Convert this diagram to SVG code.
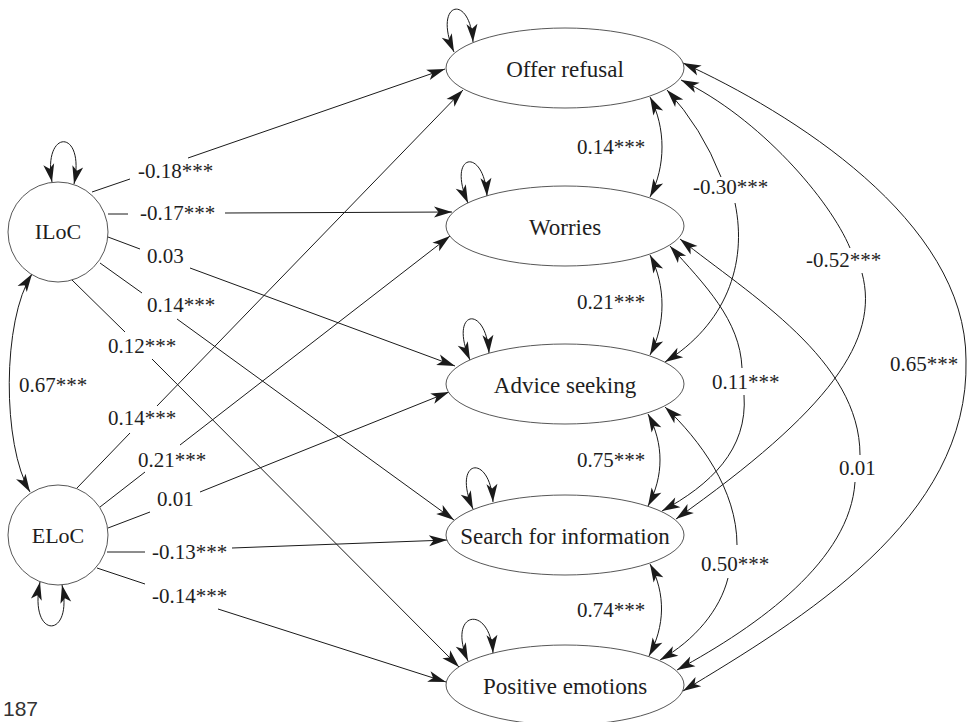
<svg xmlns="http://www.w3.org/2000/svg" width="967" height="722" viewBox="0 0 967 722">
<style>
.node{fill:#fff;stroke:#444;stroke-width:0.9}
.c{fill:none;stroke:#1a1a1a;stroke-width:1}
.ae{marker-end:url(#ah)}
.ab{marker-start:url(#ah);marker-end:url(#ah)}
.t{font-family:"Liberation Serif","Times New Roman",serif;fill:#1e1e1e}
.nl{font-size:23px;text-anchor:middle}
.cl{font-size:22px;text-anchor:middle}
.el{font-size:21px}
.pg{font-family:"Liberation Sans",Arial,sans-serif;font-size:21px;fill:#333}
</style>
<defs>
<marker id="ah" viewBox="-19 -7 20 14" refX="0" refY="0" markerWidth="20" markerHeight="14" markerUnits="userSpaceOnUse" orient="auto-start-reverse">
<path d="M0,0 L-18,-5.5 L-13.5,0 L-18,5.5 Z" fill="#1a1a1a"/>
</marker>
</defs>
<rect width="967" height="722" fill="#fff"/>

<g id="connectors">
<!-- ILoC paths -->
<path class="c" d="M92,192 L130,179"/><path class="c ae" d="M188,158 L445,69"/>
<path class="c" d="M108,214 L128,214"/><path class="c ae" d="M225,213 L452,212"/>
<path class="c" d="M108,237 L140,249"/><path class="c ae" d="M190,268 L455,366"/>
<path class="c" d="M100,263 L142,293"/><path class="c ae" d="M177,319 L454,520"/>
<path class="c" d="M72,280 L125,332"/><path class="c ae" d="M152,359 L459,667"/>
<!-- ELoC paths -->
<path class="c" d="M77,488 L130,433"/><path class="c ae" d="M157,406 L463,90"/>
<path class="c" d="M100,507 L145,472"/><path class="c ae" d="M180,445 L450,236"/>
<path class="c" d="M108,528 L150,512"/><path class="c ae" d="M200,492 L449,392"/>
<path class="c" d="M107,552 L145,552"/><path class="c ae" d="M232,548 L447,540"/>
<path class="c" d="M97,568 L145,584"/><path class="c ae" d="M218,609 L446,682"/>
<!-- ILoC-ELoC covariance -->
<path class="c ab" d="M32,274 C2,320 2,445 30,492"/>
<!-- self loops -->
<path class="c ab" d="M52,182 C42,128 86,128 74,184"/>
<path class="c ab" d="M40,582 C28,640 74,640 62,585"/>
<path class="c ab" d="M454,52 C432,2 470,-8 473,42"/>
<path class="c ab" d="M468,203 C446,153 484,146 487,196"/>
<path class="c ab" d="M470,360 C448,310 486,303 489,353"/>
<path class="c ab" d="M473,509 C451,459 490,452 493,502"/>
<path class="c ab" d="M468,661 C446,611 490,603 493,653"/>
<!-- adjacent covariances -->
<path class="c ab" d="M650,97 C666,128 666,166 650,197"/>
<path class="c ab" d="M650,255 C666,286 666,324 650,355"/>
<path class="c ab" d="M648,414 C664,444 664,476 648,506"/>
<path class="c ab" d="M650,564 C666,594 665,626 649,656"/>
<!-- -0.30 Offer-Advice -->
<path class="c" d="M667,90 Q702,128 721,177" style="marker-start:url(#ah)"/>
<path class="c ae" d="M735,203 C748,265 725,325 665,362"/>
<!-- -0.52 Offer-Search -->
<path class="c" d="M681,80 C760,118 830,200 850,248" style="marker-start:url(#ah)"/>
<path class="c ae" d="M862,273 C880,340 830,410 676,519"/>
<!-- 0.65 Offer-Positive -->
<path class="c ab" d="M683,63 C790,112 966,220 966,360 C970,520 800,620 683,691"/>
<!-- 0.11 Worries-Search -->
<path class="c" d="M670,246 C705,285 740,320 742,368" style="marker-start:url(#ah)"/>
<path class="c ae" d="M744,395 C748,450 710,485 662,511"/>
<!-- 0.01 Worries-Positive -->
<path class="c" d="M680,239 C750,295 860,360 860,455" style="marker-start:url(#ah)"/>
<path class="c ae" d="M855,482 C850,560 760,625 677,670"/>
<!-- 0.50 Advice-Positive -->
<path class="c" d="M665,407 C700,440 737,490 737,545" style="marker-start:url(#ah)"/>
<path class="c ae" d="M728,578 C720,610 695,640 660,660"/>
</g>

<g id="edge-labels" class="t el">
<text x="138" y="178">-0.18***</text>
<text x="140" y="220">-0.17***</text>
<text x="147" y="263">0.03</text>
<text x="147" y="312">0.14***</text>
<text x="108" y="353">0.12***</text>
<text x="19" y="392">0.67***</text>
<text x="108" y="425">0.14***</text>
<text x="138" y="467">0.21***</text>
<text x="157" y="506">0.01</text>
<text x="152" y="559">-0.13***</text>
<text x="152" y="603">-0.14***</text>
<text x="577" y="154">0.14***</text>
<text x="577" y="309">0.21***</text>
<text x="577" y="467">0.75***</text>
<text x="577" y="617">0.74***</text>
<text x="693" y="194">-0.30***</text>
<text x="806" y="267">-0.52***</text>
<text x="712" y="389">0.11***</text>
<text x="890" y="371">0.65***</text>
<text x="839" y="475">0.01</text>
<text x="701" y="571">0.50***</text>
</g>

<g id="ILoC"><circle class="node" cx="58" cy="232" r="50"/><text class="t cl" x="58" y="239">ILoC</text></g>
<g id="ELoC"><circle class="node" cx="58" cy="535" r="50"/><text class="t cl" x="58" y="543">ELoC</text></g>
<g id="offer-refusal"><ellipse class="node" cx="565" cy="68" rx="119" ry="40"/><text class="t nl" x="565" y="77">Offer refusal</text></g>
<g id="worries"><ellipse class="node" cx="565" cy="226" rx="119" ry="40"/><text class="t nl" x="565" y="235">Worries</text></g>
<g id="advice-seeking"><ellipse class="node" cx="565" cy="384" rx="119" ry="40"/><text class="t nl" x="565" y="393">Advice seeking</text></g>
<g id="search-for-information"><ellipse class="node" cx="565" cy="535" rx="119" ry="40"/><text class="t nl" x="565" y="544">Search for information</text></g>
<g id="positive-emotions"><ellipse class="node" cx="565" cy="685" rx="119" ry="40"/><text class="t nl" x="565" y="694">Positive emotions</text></g>

<text class="pg" x="3" y="716">187</text>
</svg>
